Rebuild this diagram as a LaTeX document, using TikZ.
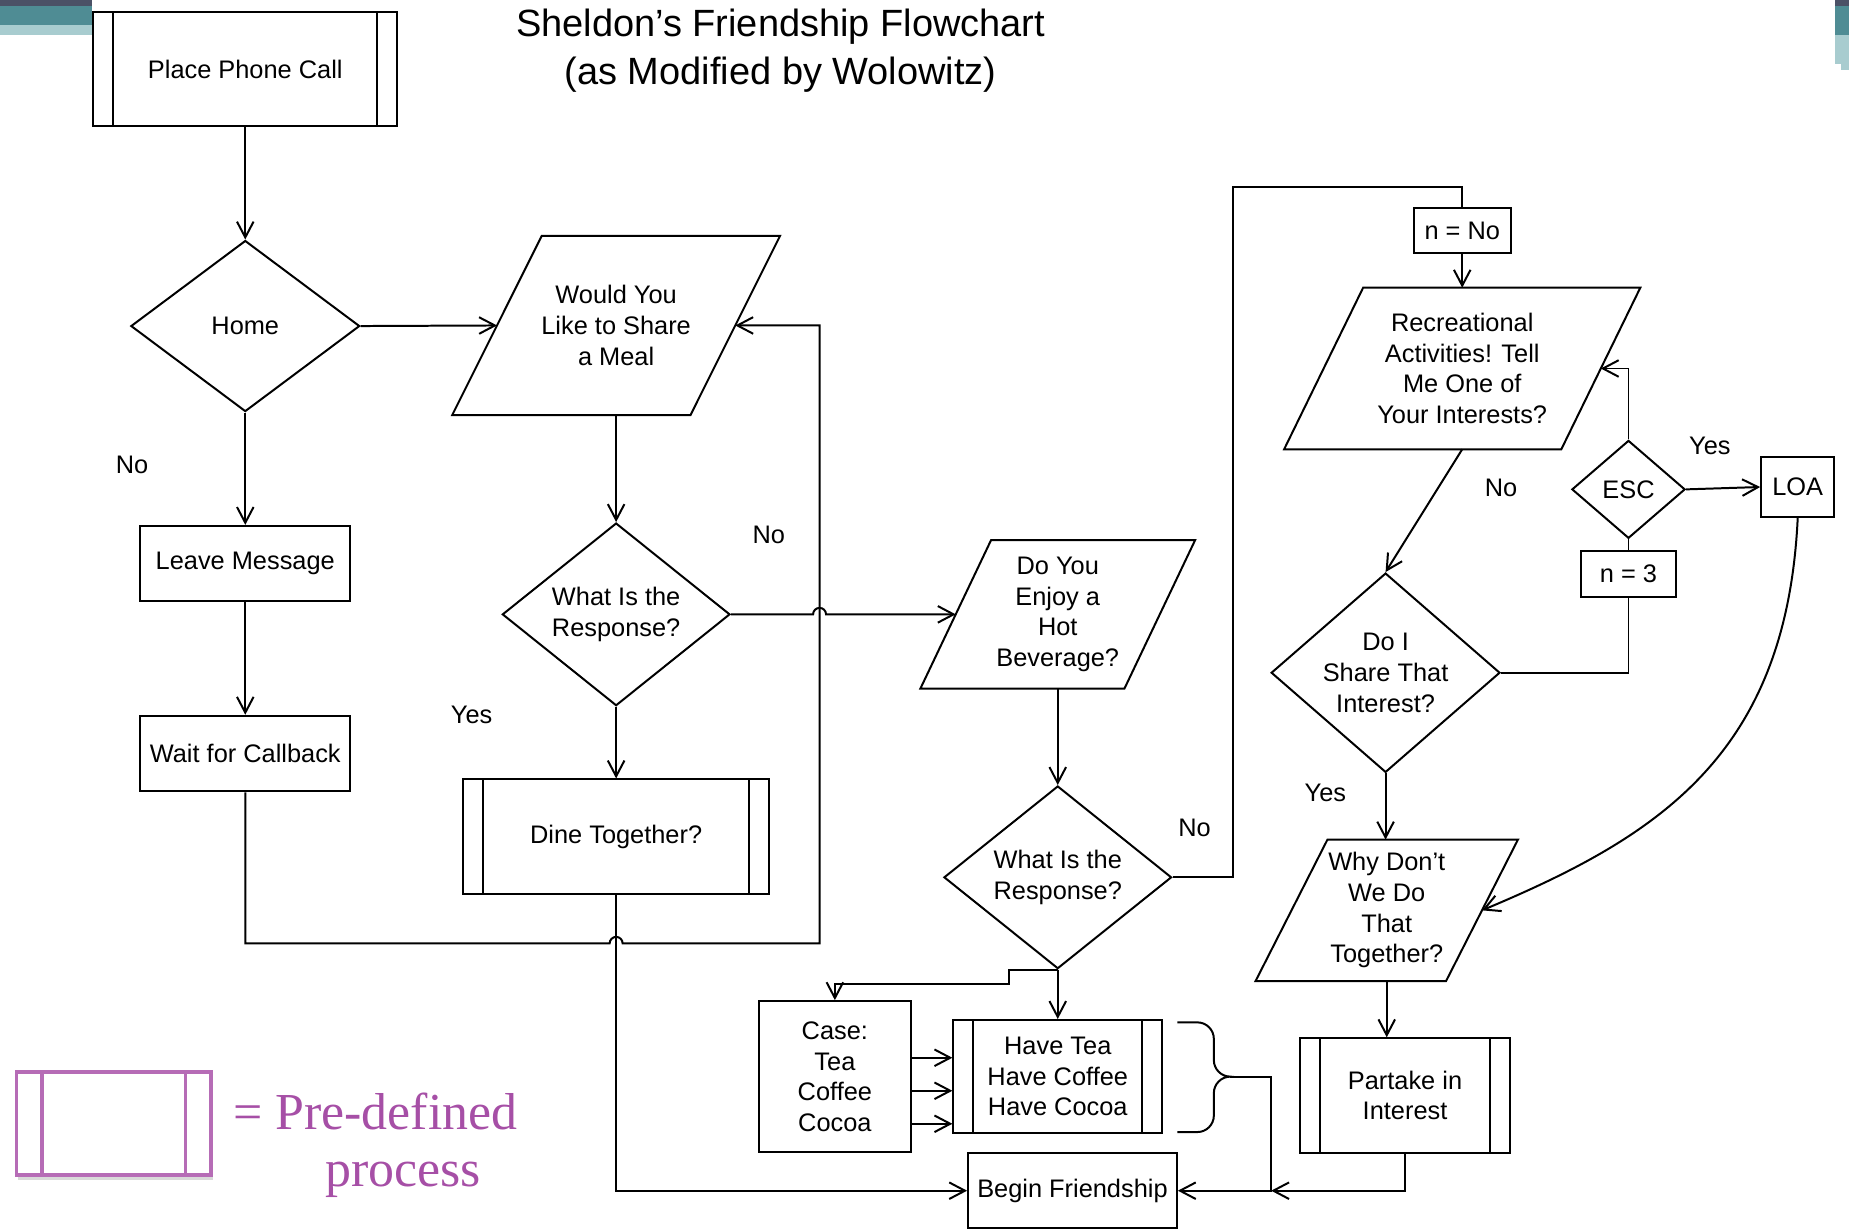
\documentclass[tikz,border=0pt]{standalone}
\usepackage{fontspec}
\setmainfont{Liberation Serif}
\setsansfont{Liberation Sans}
\usepackage{tikz}
\usetikzlibrary{positioning, arrows.meta, calc, shapes.geometric, shadows}
\definecolor{deco-dark}{HTML}{4B5166}
\definecolor{deco-teal}{HTML}{4F8C94}
\definecolor{deco-light}{HTML}{A8CCCF}
\definecolor{key-purple}{HTML}{A64FA6}
\definecolor{key-line}{HTML}{B66CB6}
% parallelogram round a named node, #2 = half of the slant
\newcommand{\slantbox}[2]{%
  \draw[line width=1.2pt, line join=miter]
    ($(#1.south west)+(-#2,0)$) -- ($(#1.north west)+(#2,0)$)
    -- ($(#1.north east)+(#2,0)$) -- ($(#1.south east)+(-#2,0)$) -- cycle;}

\begin{document}
\begin{tikzpicture}[
    x=0.025cm, y=-0.025cm,
    every node/.style={font=\sffamily\fontsize{15.3}{18.5}\selectfont, align=center},
    box/.style={draw, rectangle, line width=1.2pt, inner sep=1pt},
    predef/.style={box, path picture={
        \draw[line width=1.2pt] ([xshift=0.425cm]path picture bounding box.north west)
            -- ([xshift=0.425cm]path picture bounding box.south west);
        \draw[line width=1.2pt] ([xshift=-0.425cm]path picture bounding box.north east)
            -- ([xshift=-0.425cm]path picture bounding box.south east);}},
    decision/.style={draw, diamond, line width=1.2pt, inner sep=0pt},
    io/.style={rectangle, inner sep=1pt, outer sep=0pt},
    arr/.style={-{Straight Barb[length=9.5pt, width=10pt]}, line width=1.2pt},
    line/.style={line width=1.2pt},
    lbl/.style={inner sep=0pt},
    keytext/.style={font=\rmfamily\fontsize{31.3}{36}\selectfont, text=key-purple, inner sep=0pt},
]
    \useasboundingbox (0,0) rectangle (1568,1043);

    % Corner bars
    \fill[deco-dark]  (0,0) rectangle (78,5);
    \fill[deco-teal]  (0,5) rectangle (78,21);
    \fill[deco-light] (0,21) rectangle (78,30);
    \fill[deco-dark]  (1556,0) rectangle (1568,5);
    \fill[deco-teal]  (1556,5) rectangle (1568,30);
    \fill[deco-light] (1556,30) rectangle (1561,54);
    \fill[deco-light] (1561,30) rectangle (1568,59);

    % Title
    \node[font=\sffamily\fontsize{22.9}{29}\selectfont] (title) at (662,43)
        {Sheldon’s Friendship Flowchart\\(as Modified by Wolowitz)};

    % Left column
    \node[predef, minimum width=6.45cm, minimum height=2.425cm] (call) at (208,58.5)
        {Place Phone Call};
    \node[decision, minimum width=4.85cm, minimum height=3.625cm] (home) at (208,276.5)
        {Home};
    \node[box, minimum width=4.45cm, minimum height=1.6cm] (leave) at (208,478)
        {Leave Message};
    \node[box, minimum width=4.45cm, minimum height=1.6cm] (wait) at (208,639)
        {Wait for Callback};

    % Meal
    \node[io, minimum width=5.05cm, minimum height=3.8cm] (meal) at (522.5,276)
        {Would You\\Like to Share\\a Meal};
    \slantbox{meal}{38}
    \node[decision, minimum width=4.825cm, minimum height=3.625cm] (resp1) at (522.5,521)
        {What Is the\\Response?};
    \node[predef, minimum width=6.475cm, minimum height=2.425cm] (dine) at (522.5,709.5)
        {Dine Together?};

    % Hot beverage
    \node[io, minimum width=4.325cm, minimum height=3.15cm] (drink) at (897,521)
        {Do You\\Enjoy a\\Hot\\Beverage?};
    \slantbox{drink}{30}
    \node[decision, minimum width=4.825cm, minimum height=3.6cm] (resp2) at (897,744)
        {What Is the\\Response?};
    \node[box, minimum width=3.225cm, minimum height=3.2cm] (case) at (708,913)
        {Case:\\Tea\\Coffee\\Cocoa};
    \node[predef, minimum width=4.425cm, minimum height=2.4cm] (have) at (897,913)
        {Have Tea\\Have Coffee\\Have Cocoa};
    \node[box, minimum width=4.425cm, minimum height=1.6cm] (begin) at (909.5,1009.75)
        {Begin Friendship};

    % Interests
    \node[box, minimum width=2.05cm, minimum height=0.9625cm] (nno) at (1240,195.5)
        {n = No};
    \node[io, minimum width=5.875cm, minimum height=3.425cm] (rec) at (1240,312.5)
        {Recreational\\Activities! Tell\\Me One of\\Your Interests?};
    \slantbox{rec}{33.5}
    \node[decision, aspect=1.15, minimum width=4.85cm, minimum height=4.225cm] (share) at (1175,570.5)
        {Do I\\Share That\\Interest?};
    \node[decision, minimum width=2.4cm, minimum height=2.075cm] (esc) at (1381,415)
        {ESC};
    \node[box, minimum width=1.55cm, minimum height=1.275cm] (loa) at (1524.5,413)
        {LOA};
    \node[box, minimum width=2.0125cm, minimum height=0.975cm] (nthree) at (1381,486.5)
        {n = 3};
    \node[io, minimum width=4.0375cm, minimum height=3cm] (why) at (1176,772)
        {Why Don’t\\We Do\\That\\Together?};
    \slantbox{why}{30.5}
    \node[predef, minimum width=4.45cm, minimum height=2.425cm] (part) at (1191.5,929)
        {Partake in\\Interest};

    % Labels
    \node[lbl] (noHome)  at (112,394)  {No};
    \node[lbl] (noMeal)  at (652,454)  {No};
    \node[lbl] (yesMeal) at (400,606)  {Yes};
    \node[lbl] (noDrink) at (1013,702) {No};
    \node[lbl] (noRec)   at (1273,414) {No};
    \node[lbl] (yesEsc)  at (1450,378) {Yes};
    \node[lbl] (yesShare) at (1124,672) {Yes};

    % Key
    \node[draw=key-line, line width=2.1pt, fill=white,
          minimum width=4.125cm, minimum height=2.1875cm,
          drop shadow={opacity=0.3, shadow xshift=0.04cm, shadow yshift=-0.1cm},
          path picture={
            \draw[key-line, line width=2.1pt] ([xshift=0.54cm]path picture bounding box.north west)
                -- ([xshift=0.54cm]path picture bounding box.south west);
            \draw[key-line, line width=2.1pt] ([xshift=-0.54cm]path picture bounding box.north east)
                -- ([xshift=-0.54cm]path picture bounding box.south east);}]
        (key) at (96.5,952.75) {};
    \node[keytext, anchor=base west] (keyA) at (197.5,958) {= Pre-defined};
    \node[keytext, anchor=base west] (keyB) at (275.7,1006.5) {process};

    % Bend points
    \coordinate (loop) at (695,800);
    \coordinate (up) at (1046,159);
    \coordinate (tip) at ($(have.east)+(57,0)$);
    \coordinate (join) at (1078,1009.75);

    % Arrows
    \draw[arr] (call) -- (home);
    \draw[arr] (home.east) -- (meal.west);
    \draw[arr] (home) -- (leave);
    \draw[arr] (leave) -- (wait);
    \draw[arr] (wait.south) |- ($(dine.south |- loop)+(-5.5,0)$)
        arc[start angle=180, end angle=0, radius=0.1375cm] -- (loop) |- (meal.east);
    \draw[arr] (meal.south) -- (resp1.north);
    \draw[arr] (resp1.east) -- ($(loop |- resp1.east)+(-5.5,0)$)
        arc[start angle=180, end angle=0, radius=0.1375cm] -- (drink.west);
    \draw[arr] (resp1) -- (dine);
    \draw[arr] (dine.south) |- (begin.west);
    \draw[arr] (drink.south) -- (resp2.north);
    \draw[line] (resp2.east) -| (up) -| (nno.north);
    \draw[arr] (nno) -- (rec.north);
    \draw[arr] (rec.south) -- (share.north);
    \draw[line] (share.east) -| (nthree.south);
    \draw[line] (nthree) -- (esc);
    \draw[arr] (esc.north) |- (rec.east);
    \draw[arr] (esc.east) -- (loa.west);
    \draw[arr] (loa.south) .. controls (1515,640) and (1407,709) .. (why.east);
    \draw[arr] (share.south) -- (share.south |- why.north);
    \draw[arr] (why.south) -- (why.south |- part.north);
    \draw[arr] (part.south) |- (join);
    \draw[arr] (tip) -| (join) -- (begin.east);
    \draw[arr] (resp2) -- (have);
    \draw[arr] (resp2.south) -- ++(-41,0) -- ++(0,12) -| (case.north);
    \foreach \dy in {-16,12,40}
        \draw[arr] ($(case.east)+(0,\dy)$) -- ($(have.west)+(0,\dy)$);

    % Brace
    \draw[line] ($(have.east)+(12,-46)$) -- ++(17,0)
        arc[start angle=90, end angle=0, radius=0.35cm] -- ++(0,18)
        arc[start angle=180, end angle=270, radius=0.35cm]
        arc[start angle=90, end angle=180, radius=0.35cm] -- ++(0,19)
        arc[start angle=0, end angle=-90, radius=0.35cm] -- ++(-17,0);
\end{tikzpicture}
\end{document}
